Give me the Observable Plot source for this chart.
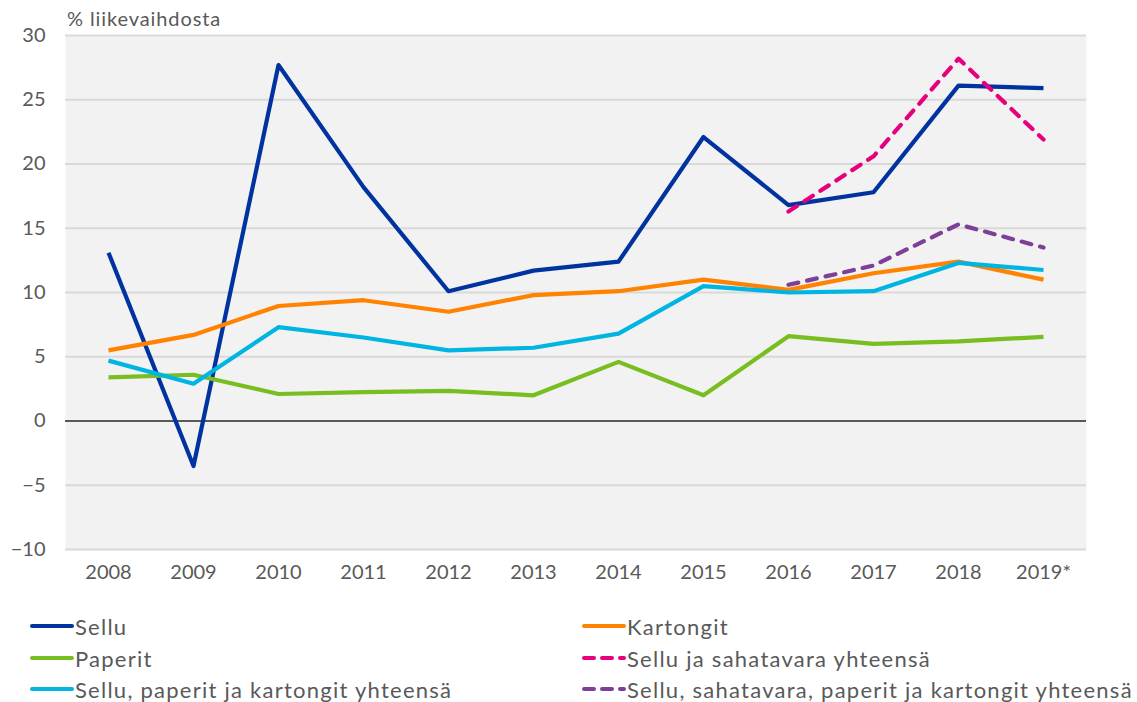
<!DOCTYPE html>
<html>
<head>
<meta charset="utf-8">
<script src="https://cdn.jsdelivr.net/npm/d3@7"></script>
<script src="https://cdn.jsdelivr.net/npm/@observablehq/plot@0.6"></script>
<style>
  html, body { margin: 0; padding: 0; background: #fff; }
  body { width: 1137px; height: 702px; position: relative; overflow: hidden; font-family: Lato, "Open Sans", sans-serif; }
  #chart { position: absolute; left: 0; top: 0; }
  #ylabel { position: absolute; left: 67px; top: 6px; font-size: 20px; letter-spacing: 0.9px; color: #595959; }
  .leg { position: absolute; display: flex; align-items: center; font-size: 22px; letter-spacing: 1.25px; color: #595959; white-space: nowrap; }
  .leg svg { margin-right: 1px; }
</style>
</head>
<body>
<div id="chart"></div>
<div id="ylabel">% liikevaihdosta</div>
<div id="legend"></div>
<script>
const years = ["2008","2009","2010","2011","2012","2013","2014","2015","2016","2017","2018","2019*"];
const sellu = [13.1, -3.5, 27.7, 18.2, 10.1, 11.7, 12.4, 22.1, 16.8, 17.8, 26.1, 25.9];
const kartongit = [5.5, 6.7, 8.95, 9.4, 8.5, 9.8, 10.1, 11.0, 10.2, 11.5, 12.4, 11.0];
const paperit = [3.4, 3.6, 2.1, 2.25, 2.35, 2.0, 4.6, 2.0, 6.6, 6.0, 6.2, 6.55];
const spkYhteensa = [4.7, 2.9, 7.3, 6.5, 5.5, 5.7, 6.8, 10.5, 10.0, 10.1, 12.3, 11.75];
const selluSahaYhteensa = [null, null, null, null, null, null, null, null, 16.3, 20.6, 28.2, 21.9];
const kaikkiYhteensa = [null, null, null, null, null, null, null, null, 10.6, 12.1, 15.3, 13.5];
const yTicks = [-10, -5, 0, 5, 10, 15, 20, 25, 30];

const seriesNames = ["Sellu", "Kartongit", "Paperit", "Sellu ja sahatavara yhteensä", "Sellu, paperit ja kartongit yhteensä", "Sellu, sahatavara, paperit ja kartongit yhteensä"];
const seriesColors = ["#0033a0", "#ff8200", "#78be20", "#e6007e", "#00b5e2", "#7d3f98"];
const seriesDashed = [false, false, false, true, false, true];
const seriesValues = [sellu, kartongit, paperit, selluSahaYhteensa, spkYhteensa, kaikkiYhteensa];

function rows(vals) {
  return years.map((y, i) => ({year: y, value: vals[i]})).filter(d => d.value != null);
}

const drawOrder = [0, 2, 1, 4, 3, 5];
const lineMarks = drawOrder.map(i => Plot.line(rows(seriesValues[i]), {
  x: "year", y: "value",
  stroke: seriesColors[i], strokeWidth: 4.2,
  strokeLinejoin: "round", strokeLinecap: seriesDashed[i] ? "round" : "butt",
  strokeDasharray: seriesDashed[i] ? "10,9" : null
}));

const chart = Plot.plot({
  width: 1137,
  height: 595,
  marginLeft: 65,
  marginRight: 51,
  marginTop: 35,
  marginBottom: 46,
  style: {fontFamily: "Lato, 'Open Sans', sans-serif", fontSize: "20px", color: "#595959", background: "#fff", overflow: "visible"},
  x: {type: "point", domain: years, padding: 0.5, label: null},
  y: {domain: [-10, 30], label: null},
  marks: [
    Plot.frame({fill: "#f2f2f2", stroke: null}),
    Plot.ruleY(yTicks.filter(t => t !== 0), {stroke: "#d9d9d9", strokeWidth: 2}),
    Plot.ruleY([0], {stroke: "#595959", strokeWidth: 2}),
    Plot.axisY(yTicks, {tickSize: 0, tickPadding: 20, fill: "#595959", fontSize: 20, label: null}),
    Plot.axisX({tickSize: 0, tickPadding: 15, fill: "#595959", fontSize: 20, label: null}),
    ...lineMarks
  ]
});
document.getElementById("chart").appendChild(chart);

// Legend
const legendOrder = [0, 1, 2, 3, 4, 5];
const legPos = [[30, 626], [582, 626], [30, 658], [582, 658], [30, 689], [582, 689]];
const legend = document.getElementById("legend");
legendOrder.forEach((i, k) => {
  const div = document.createElement("div");
  div.className = "leg";
  div.style.left = legPos[k][0] + "px";
  div.style.top = (legPos[k][1] - 14) + "px";
  div.style.height = "28px";
  const dash = seriesDashed[i] ? 'stroke-dasharray="10,8" stroke-linecap="round"' : 'stroke-linecap="round"';
  div.innerHTML = `<svg width="44" height="10"><line x1="2" y1="5" x2="42" y2="5" stroke="${seriesColors[i]}" stroke-width="4" ${dash}/></svg><span>${seriesNames[i]}</span>`;
  legend.appendChild(div);
});
</script>
</body>
</html>
